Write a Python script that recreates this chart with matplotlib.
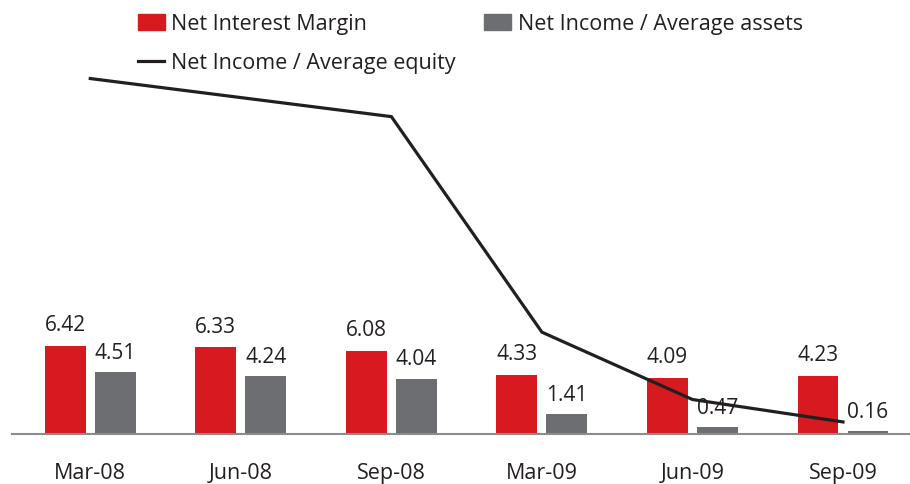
import matplotlib
matplotlib.use("Agg")
import matplotlib.pyplot as plt
import numpy as np
from matplotlib.patches import Rectangle
from matplotlib.lines import Line2D

periods = ["Mar-08", "Jun-08", "Sep-08", "Mar-09", "Jun-09", "Sep-09"]
net_interest_margin = [6.42, 6.33, 6.08, 4.33, 4.09, 4.23]
ni_avg_assets = [4.51, 4.24, 4.04, 1.41, 0.47, 0.16]
ni_avg_equity = [26.1, 24.7, 23.3, 7.45, 2.5, 0.85]

RED = "#d71920"
GREY = "#6d6e71"
LINE = "#231f20"
FONT = "Open Sans"

fig = plt.figure(figsize=(9.1, 4.84), dpi=100)
ax = fig.add_axes([12 / 910, (484 - 433.5) / 484, 1 - 12 / 910, 433.5 / 484])

x = np.arange(len(periods))
off, w = 0.166, 0.272
ax.bar(x - off, net_interest_margin, w, color=RED, zorder=2)
ax.bar(x + off, ni_avg_assets, w, color=GREY, zorder=2)
ax.plot(x, ni_avg_equity, color=LINE, lw=2.3, zorder=3, solid_joinstyle="miter")

for xi, v in zip(x - off, net_interest_margin):
    ax.annotate(f"{v:.2f}", (xi, v), xytext=(0, 7), textcoords="offset points",
                ha="center", va="bottom", fontsize=15, family=FONT, color="#231f20")
for xi, v in zip(x + off, ni_avg_assets):
    ax.annotate(f"{v:.2f}", (xi, v), xytext=(0, 6), textcoords="offset points",
                ha="center", va="bottom", fontsize=15, family=FONT, color="#231f20")

ax.set_xlim(-0.52, 5.445)
ax.set_ylim(0, 433.5 / 13.6)
for s in ["top", "right", "left"]:
    ax.spines[s].set_visible(False)
ax.spines["bottom"].set_color("#8c8c8c")
ax.spines["bottom"].set_linewidth(1.5)
ax.set_yticks([])
ax.set_xticks(x)
ax.set_xticklabels(periods, family=FONT, fontsize=15.5, color="#231f20")
ax.tick_params(axis="x", length=0, pad=21)

# legend drawn in figure pixel space
def fx(px):
    return px / 910

def fy(py):
    return 1 - py / 484

fig.patches.append(Rectangle((fx(138), fy(30)), 27 / 910, 16 / 484,
                             transform=fig.transFigure, color=RED))
fig.patches.append(Rectangle((fx(484), fy(30)), 27 / 910, 16 / 484,
                             transform=fig.transFigure, color=GREY))
fig.lines.append(Line2D([fx(138), fx(164)], [fy(61), fy(61)],
                        transform=fig.transFigure, color=LINE, lw=2.3))
leg_kw = dict(fontsize=15.5, family=FONT, color="#231f20", va="baseline", ha="left")
fig.text(fx(171), fy(30), "Net Interest Margin", **leg_kw)
fig.text(fx(518), fy(30), "Net Income / Average assets", **leg_kw)
fig.text(fx(171), fy(69), "Net Income / Average equity", **leg_kw)

fig.savefig("out.png", dpi=100)
